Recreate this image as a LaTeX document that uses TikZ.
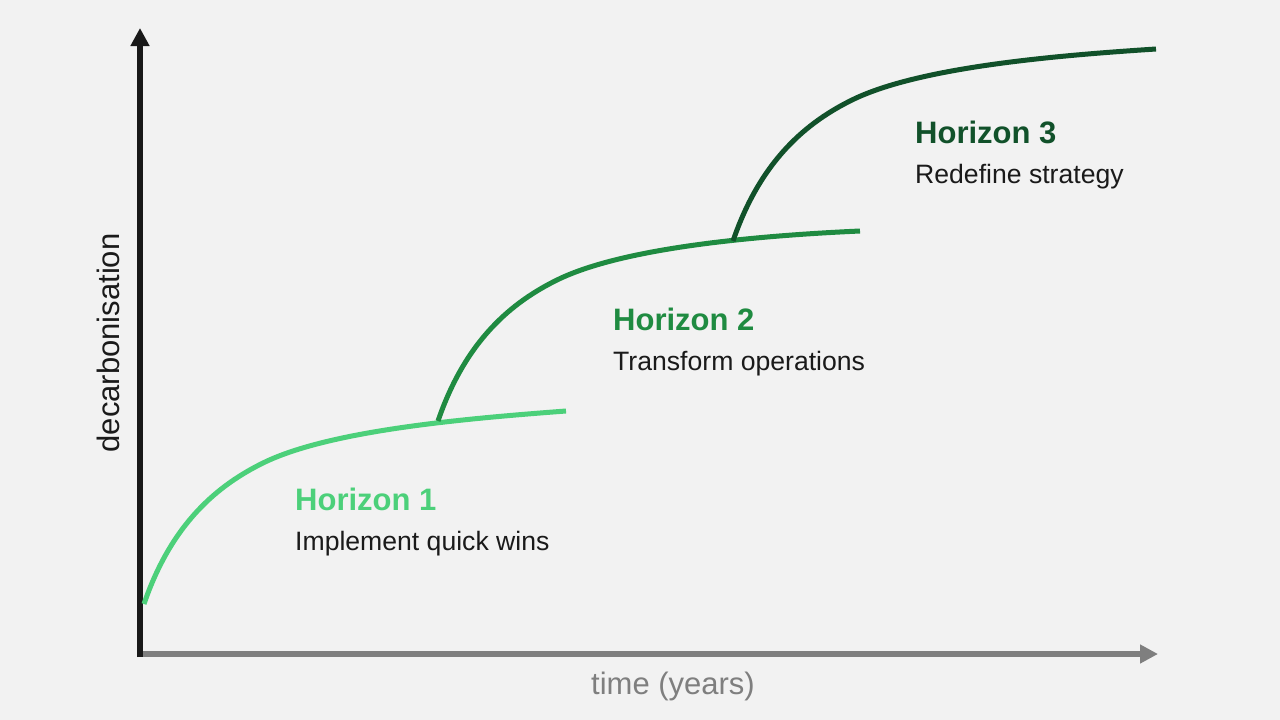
\documentclass[tikz,border=0pt]{standalone}
\usepackage{fontspec}
\setmainfont{Liberation Sans}
\usetikzlibrary{arrows.meta}
\definecolor{bg}{HTML}{F2F2F2}
\definecolor{gone}{HTML}{4CD07A}
\definecolor{gtwo}{HTML}{1F8B41}
\definecolor{gthree}{HTML}{11512A}
\definecolor{axgray}{HTML}{7F7F7F}
\definecolor{txt}{HTML}{1A1A1A}
\tikzset{
  curve/.style={line width=5pt},
  axisline/.style={line width=6pt,-{Triangle[length=18pt,width=18pt]}},
  htitle/.style={anchor=base west,inner sep=0pt,font=\fontsize{31}{36}\selectfont\bfseries},
  hsub/.style={anchor=base west,inner sep=0pt,font=\fontsize{26.6}{32}\selectfont,text=txt},
  axlabel/.style={inner sep=0pt,font=\fontsize{31}{36}\selectfont}
}
\newcommand{\horizoncurve}[3]{% start, colour, end offset
  \begin{scope}[shift={(#1)}]
  \draw[curve,#2] (0,0) .. controls (28,-82) and (75,-119.3) .. (119,-141)
     .. controls (186,-174) and (323,-185.5) .. (#3);
  \end{scope}}
\begin{document}
\begin{tikzpicture}[x=1pt,y=-1pt]
\fill[bg] (0,0) rectangle (1280,720);
\useasboundingbox (0,0) rectangle (1280,720);
% axes
\coordinate (o) at (140,654);
\coordinate (xend) at (1157,654);
\coordinate (ybot) at (140,657);
\coordinate (yend) at (140,28);
\draw[axisline,axgray,shorten >=-1pt] (o) -- (xend);
\draw[axisline,black!90] (ybot) -- (yend);
% curves
\horizoncurve{144,604}{gone}{422,-193}
\horizoncurve{438,421}{gtwo}{422,-190}
\horizoncurve{733,241}{gthree}{423,-192}
% labels
\node[htitle,text=gone] (h1) at (295,510) {Horizon 1};
\node[hsub] (d1) at (295,550) {Implement quick wins};
\node[htitle,text=gtwo] (h2) at (613,330) {Horizon 2};
\node[hsub] (d2) at (613,370) {Transform operations};
\node[htitle,text=gthree] (h3) at (915,143) {Horizon 3};
\node[hsub] (d3) at (915,183) {Redefine strategy};
\node[axlabel,text=axgray] (xl) at (673,686) {time (years)};
\node[axlabel,text=txt,rotate=90] (yl) at (108,343) {decarbonisation};
\end{tikzpicture}
\end{document}
